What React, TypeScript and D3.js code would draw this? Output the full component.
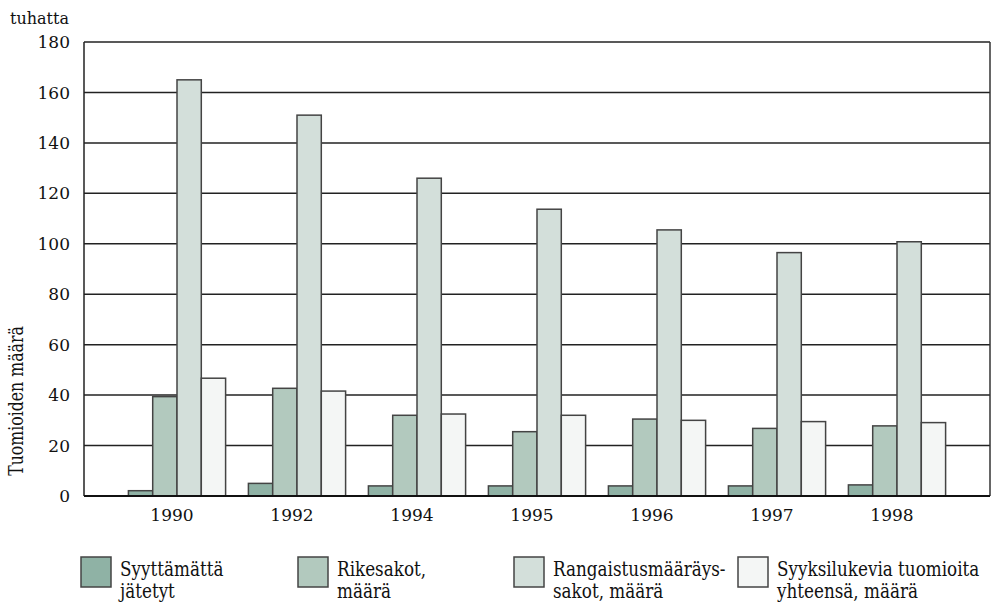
import { scaleBand, scaleLinear } from "d3";

// grouped bars, thousands of sentences per year

const YEARS = ["1990", "1992", "1994", "1995", "1996", "1997", "1998"];
const SERIES = ["Syyttämättä jätetyt", "Rikesakot, määrä", "Rangaistusmääräys-sakot, määrä", "Syyksilukevia tuomioita yhteensä, määrä"];

const syyttamatta = [2.1, 5.0, 4.0, 4.0, 4.0, 4.0, 4.4];
const rikesakot = [39.4, 42.7, 32.0, 25.5, 30.5, 26.8, 27.8];
const rangaistus = [165.0, 151.0, 126.0, 113.7, 105.5, 96.5, 100.8];
const syyksi = [46.7, 41.6, 32.5, 32.0, 30.0, 29.5, 29.1];

const Y_TICKS = [0, 20, 40, 60, 80, 100, 120, 140, 160, 180];

const LEGEND_LINES = [
  ["Syyttämättä", "jätetyt"],
  ["Rikesakot,", "määrä"],
  ["Rangaistusmääräys-", "sakot, määrä"],
  ["Syyksilukevia tuomioita", "yhteensä, määrä"],
];
const LEGEND_X = [81, 298, 514, 738];

const COLORS = ["#8fb2a5", "#b2c9be", "#d3dfda", "#f4f6f5"];
const MARGIN = { left: 84, right: 990, top: 42, bottom: 496 };

const SERIF = "'DejaVu Serif', 'Liberation Serif', 'Noto Serif', 'Times New Roman', Tinos, FreeSerif, serif";
const tickStyle = { fontFamily: SERIF, fontSize: 17 };
const textStyle = { fontFamily: SERIF, fontSize: 20 };

const App = () => {
  const width = 998;
  const height = 608;
  const values = [syyttamatta, rikesakot, rangaistus, syyksi];

  const x = scaleBand<string>()
    .domain(YEARS)
    .range([MARGIN.left, MARGIN.right])
    .paddingInner(0.19)
    .paddingOuter(0.37);
  const xInner = scaleBand<number>()
    .domain(SERIES.map((_, i) => i))
    .range([0, x.bandwidth()]);
  const y = scaleLinear().domain([0, 180]).range([MARGIN.bottom, MARGIN.top]);

  return (
    <svg width={width} height={height} style={{ position: "absolute", left: 0, top: 0 }}>
      <rect x={0} y={0} width={width} height={height} fill="#fff" />

      {/* gridlines */}
      {Y_TICKS.filter((t) => t > 0).map((t) => (
        <line key={t} x1={MARGIN.left} x2={MARGIN.right} y1={y(t)} y2={y(t)} stroke="#222" strokeWidth={1.5} />
      ))}
      <line x1={MARGIN.left} x2={MARGIN.left} y1={MARGIN.top} y2={MARGIN.bottom} stroke="#222" strokeWidth={1.5} />
      <line x1={MARGIN.right} x2={MARGIN.right} y1={MARGIN.top} y2={MARGIN.bottom} stroke="#333" strokeWidth={1.5} />

      {/* bars */}
      {YEARS.map((yr, i) => (
        <g key={yr} transform={`translate(${x(yr)},0)`}>
          {values.map((s, j) => (
            <rect
              key={j}
              x={xInner(j)}
              y={y(s[i])}
              width={xInner.bandwidth()}
              height={y(0) - y(s[i])}
              fill={COLORS[j]}
              stroke="#444"
              strokeWidth={1.5}
            />
          ))}
        </g>
      ))}

      <line x1={MARGIN.left} x2={MARGIN.right} y1={y(0)} y2={y(0)} stroke="#111" strokeWidth={2} />

      {/* y ticks */}
      {Y_TICKS.map((t) => (
        <text key={t} x={70} y={y(t)} dy="0.36em" textAnchor="end" style={tickStyle} fill="#111">
          {t}
        </text>
      ))}
      <text x={10} y={24} style={{ ...tickStyle, fontSize: 16 }} fill="#111">tuhatta</text>
      <g transform="translate(23,401) rotate(-90) scale(0.75,1)">
        <text textAnchor="middle" style={{ ...textStyle, fontSize: 21 }} fill="#111">
          Tuomioiden määrä
        </text>
      </g>

      {/* x labels */}
      {YEARS.map((yr) => (
        <text
          key={yr}
          x={(x(yr) ?? 0) + x.bandwidth() / 2 - 5}
          y={521}
          textAnchor="middle"
          style={tickStyle}
          fill="#111"
        >
          {yr}
        </text>
      ))}

      {/* legend */}
      {LEGEND_LINES.map((lines, i) => (
        <g key={i}>
          <rect x={LEGEND_X[i]} y={557} width={30} height={30} fill={COLORS[i]} stroke="#444" strokeWidth={1.5} />
          <g transform={`translate(${LEGEND_X[i] + 39},0) scale(0.8,1)`}>
            {lines.map((ln, k) => (
              <text key={k} x={0} y={576 + k * 22} style={{ ...textStyle, fontSize: 21 }} fill="#111">
                {ln}
              </text>
            ))}
          </g>
        </g>
      ))}
    </svg>
  );
};

export default App;
